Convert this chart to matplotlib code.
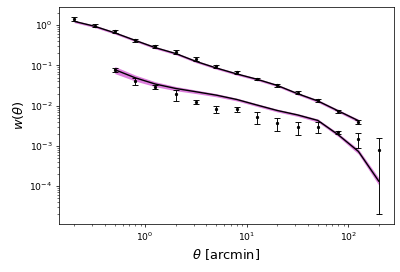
import numpy as np
import matplotlib
matplotlib.use('Agg')
import matplotlib.pyplot as plt

# angular bins [arcmin]
theta = [0.2, 0.317, 0.502, 0.796, 1.26, 2.0, 3.17, 5.02, 7.96, 12.6, 20.0, 31.7, 50.2, 79.6, 126.0, 200.0]

# first sample: measured w(theta) and errors (bins 0..14)
w1 = [1.46, 0.98, 0.70, 0.42, 0.30, 0.214, 0.144, 0.097, 0.0676, 0.0465, 0.0324, 0.0211, 0.0136, 0.0073, 0.0039]
w1_err = [0.15, 0.07, 0.05, 0.03, 0.03, 0.022, 0.014, 0.008, 0.005, 0.003, 0.0025, 0.0017, 0.0011, 0.0006, 0.0004]
model1 = [1.25, 0.945, 0.647, 0.421, 0.277, 0.198, 0.126, 0.0865, 0.0617, 0.0455, 0.0319, 0.0199, 0.0131, 0.00745, 0.00424]
band1 = [0.07, 0.07, 0.07, 0.07, 0.07, 0.07, 0.07, 0.07, 0.07, 0.07, 0.07, 0.07, 0.08, 0.08, 0.09]

# second sample (bins 2..15)
w2 = [0.0773, 0.0406, 0.0289, 0.0191, 0.0125, 0.0081, 0.0081, 0.0052, 0.00366, 0.00288, 0.00302, 0.00217, 0.00149, 0.00081]
w2_err = [0.007, 0.0075, 0.0036, 0.006, 0.0017, 0.0017, 0.0013, 0.0016, 0.0013, 0.001, 0.0009, 0.00016, 0.0006, 0.00079]
model2 = [0.0787, 0.0495, 0.0345, 0.0268, 0.0222, 0.0183, 0.0143, 0.0104, 0.0076, 0.0059, 0.0043, 0.0019, 0.00073, 0.000133]
band2 = [0.2, 0.17, 0.14, 0.12, 0.1, 0.09, 0.08, 0.08, 0.08, 0.08, 0.09, 0.1, 0.14, 0.2]

t1 = np.array(theta[:15])
t2 = np.array(theta[2:])

fig = plt.figure(figsize=(6, 4.08), dpi=400 / 6)
ax = fig.add_subplot(111)
fig.subplots_adjust(left=0.1475, right=0.985, top=0.974, bottom=0.176)

for t, m, b in [(t1, model1, band1), (t2, model2, band2)]:
    m = np.array(m)
    b = np.array(b)
    ax.fill_between(t, m * (1 - b), m * (1 + b), color='m', alpha=0.5, lw=0)
    ax.plot(t, m, color='k', lw=1.5)

ax.errorbar(t1, w1, yerr=w1_err, fmt='.', color='k', capsize=3, ms=5, elinewidth=1)
ax.errorbar(t2, w2, yerr=w2_err, fmt='.', color='k', capsize=3, ms=5, elinewidth=1)

ax.set_xscale('log')
ax.set_yscale('log')
ax.set_xlabel(r'$\theta$ [arcmin]', fontsize=14)
ax.set_ylabel(r'$w(\theta)$', fontsize=14)
plt.savefig('out.png', dpi=400 / 6)
